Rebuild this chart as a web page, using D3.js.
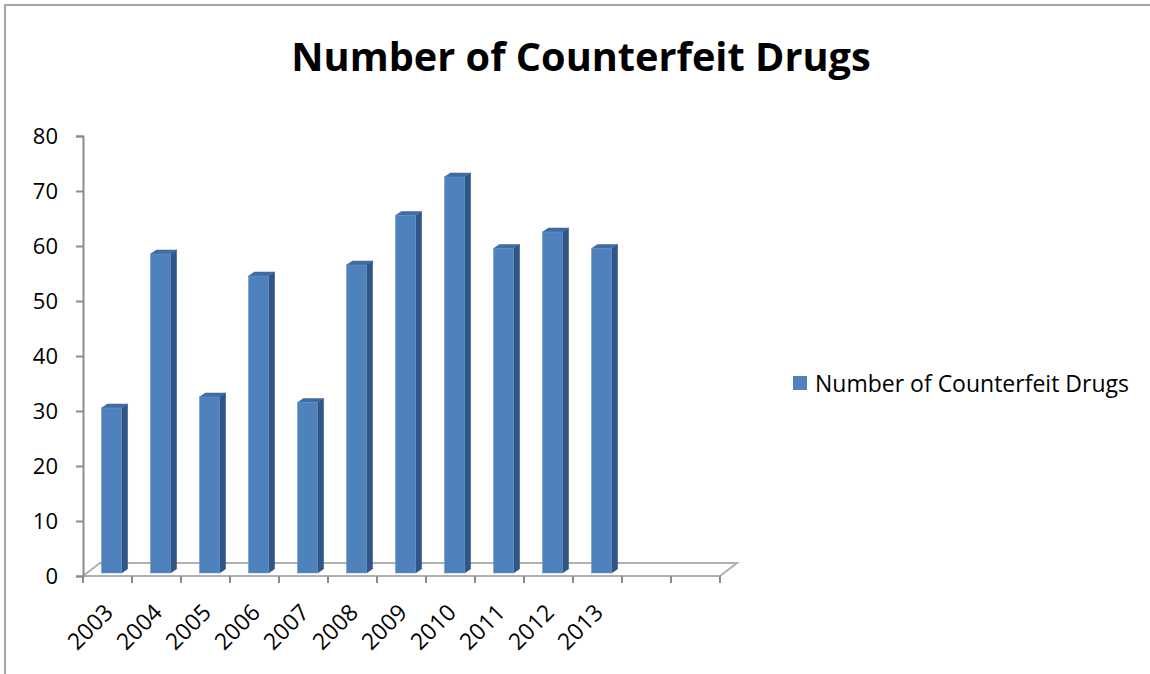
<!DOCTYPE html>
<html>
<head>
<meta charset="utf-8">
<script src="https://cdn.jsdelivr.net/npm/d3@7"></script>
<style>
  body { margin: 0; background: #fff; }
  svg { display: block; font-family: "Open Sans", Lato, sans-serif; }
</style>
</head>
<body>
<svg id="chart" width="1150" height="674"></svg>
<script>
const title = 'Number of Counterfeit Drugs'
const seriesName = 'Number of Counterfeit Drugs'
// two empty slots at the end, like the original sheet
const categories = ['2003', '2004', '2005', '2006', '2007', '2008', '2009', '2010', '2011', '2012', '2013', '', '']
const values = [30, 58, 32, 54, 31, 56, 65, 72, 59, 62, 59, null, null]
const yTicks = [0, 10, 20, 30, 40, 50, 60, 70, 80]

const svg = d3.select('#chart')
const width = 1150
const height = 674

// depth of the 3d floor
const depth = { dx: 17, dy: -13 }
const barShift = { dx: 4, dy: -3 }
const side = { dx: 6, dy: -4 }

const x = d3.scaleBand()
  .domain(d3.range(categories.length))
  .range([83, 720])
  .padding(0)

const y = d3.scaleLinear()
  .domain([0, 80])
  .range([576, 136])

const axisColor = '#8c8c8c'

// frame
svg.append('path')
  .attr('d', `M5,${height} L5,5 L${width},5`)
  .attr('fill', 'none')
  .attr('stroke', '#a6a6a6')
  .attr('stroke-width', 2)

// title
svg.append('text')
  .attr('x', 581)
  .attr('y', 71)
  .attr('text-anchor', 'middle')
  .attr('font-weight', 'bold')
  .attr('font-size', 39.7)
  .attr('fill', '#000')
  .text(title)

// floor outline
const x0 = x.range()[0]
const x1 = x.range()[1]
const y0 = y(0)
svg.append('path')
  .attr('d', `M${x0},${y0} L${x1},${y0} L${x1 + depth.dx},${y0 + depth.dy} L${x0 + depth.dx},${y0 + depth.dy} Z`)
  .attr('fill', 'none')
  .attr('stroke', '#b0b0b0')
  .attr('stroke-width', 2)

// y axis
const yAxis = g => g
  .attr('transform', `translate(${x0},0)`)
  .call(d3.axisLeft(y).tickValues(yTicks).tickSize(7).tickPadding(18))
  .call(g => g.select('.domain').attr('stroke', axisColor).attr('stroke-width', 2))
  .call(g => g.selectAll('.tick line').attr('stroke', axisColor).attr('stroke-width', 2))
  .call(g => g.selectAll('.tick text')
    .attr('font-size', 22)
    .attr('font-family', '"Open Sans", sans-serif')
    .attr('fill', '#000'))
svg.append('g').call(yAxis)

// x ticks
svg.append('g')
  .selectAll('line')
  .data(d3.range(categories.length + 1))
  .join('line')
    .attr('x1', i => x0 + i * x.bandwidth())
    .attr('x2', i => x0 + i * x.bandwidth())
    .attr('y1', y0)
    .attr('y2', y0 + 7)
    .attr('stroke', axisColor)
    .attr('stroke-width', 2)

// x labels
svg.append('g')
  .selectAll('text')
  .data(categories)
  .join('text')
    .attr('transform', (d, i) => `translate(${x(i) + x.bandwidth() / 2 + 7},${y0 + 38}) rotate(-45)`)
    .attr('text-anchor', 'end')
    .attr('font-size', 23)
    .attr('fill', '#000')
    .text(d => d)

// bars
const bw = x.bandwidth() * 0.41
const bars = svg.append('g')
categories.forEach((c, i) => {
  const v = values[i]
  if (v === null) return
  const left = x(i) + x.bandwidth() / 2 - bw / 2 + barShift.dx
  const right = left + bw
  const top = y(v) + barShift.dy
  const bottom = y(0) + barShift.dy
  // side face
  bars.append('path')
    .attr('d', `M${right},${top} L${right + side.dx},${top + side.dy} L${right + side.dx},${bottom + side.dy} L${right},${bottom} Z`)
    .attr('fill', '#2f5687')
    .attr('stroke', '#2a4d7a')
    .attr('stroke-width', 0.5)
  // top face
  bars.append('path')
    .attr('d', `M${left},${top} L${left + side.dx},${top + side.dy} L${right + side.dx},${top + side.dy} L${right},${top} Z`)
    .attr('fill', '#3f6ca6')
    .attr('stroke', '#3a649b')
    .attr('stroke-width', 0.5)
  // front face
  bars.append('rect')
    .attr('x', left)
    .attr('y', top)
    .attr('width', bw)
    .attr('height', bottom - top)
    .attr('fill', '#4f81bd')
    .attr('stroke', '#6f97c9')
    .attr('stroke-width', 0.5)
})

// legend
const legend = svg.append('g').attr('transform', 'translate(793,376)')
legend.append('rect')
  .attr('width', 14)
  .attr('height', 14)
  .attr('fill', '#4f81bd')
legend.append('text')
  .attr('x', 22)
  .attr('y', 7)
  .attr('dominant-baseline', 'central')
  .attr('font-size', 23)
  .attr('fill', '#000')
  .text(seriesName)
</script>
</body>
</html>
